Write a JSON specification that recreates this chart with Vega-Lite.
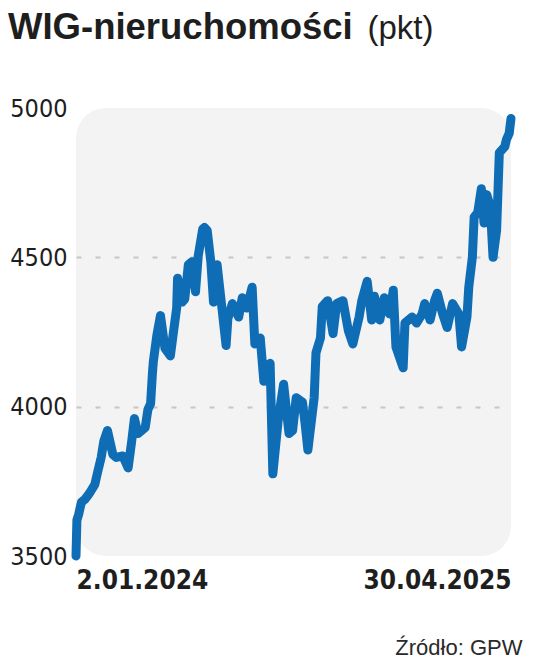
{
  "$schema": "https://vega.github.io/schema/vega-lite/v6.json",
  "width": 435,
  "height": 448,
  "autosize": {"type": "none"},
  "padding": {"left": 76, "top": 108, "right": 25, "bottom": 103},
  "background": "#ffffff",
  "title": {
    "text": "WIG-nieruchomości",
    "anchor": "start",
    "frame": "group",
    "dx": -68,
    "dy": 63,
    "offset": 0,
    "baseline": "alphabetic",
    "font": "Liberation Sans",
    "fontSize": 36.5,
    "fontWeight": "bold",
    "color": "#1e1e1e"
  },
  "config": {
    "view": {"fill": "#f3f3f3", "stroke": null, "cornerRadius": 30}
  },
  "data": {
    "values": [
      {"date": "2024-01-02", "value": 3500},
      {"date": "2024-01-03", "value": 3620},
      {"date": "2024-01-05", "value": 3640},
      {"date": "2024-01-08", "value": 3680},
      {"date": "2024-01-12", "value": 3690},
      {"date": "2024-01-17", "value": 3710},
      {"date": "2024-01-23", "value": 3740},
      {"date": "2024-01-26", "value": 3780},
      {"date": "2024-01-30", "value": 3830},
      {"date": "2024-02-02", "value": 3885},
      {"date": "2024-02-06", "value": 3920},
      {"date": "2024-02-12", "value": 3840},
      {"date": "2024-02-16", "value": 3830},
      {"date": "2024-02-23", "value": 3835},
      {"date": "2024-02-29", "value": 3795},
      {"date": "2024-03-04", "value": 3885},
      {"date": "2024-03-07", "value": 3960},
      {"date": "2024-03-11", "value": 3910},
      {"date": "2024-03-15", "value": 3920},
      {"date": "2024-03-19", "value": 3930},
      {"date": "2024-03-22", "value": 3990},
      {"date": "2024-03-25", "value": 4010},
      {"date": "2024-03-27", "value": 4110},
      {"date": "2024-03-28", "value": 4150},
      {"date": "2024-04-01", "value": 4240},
      {"date": "2024-04-05", "value": 4305},
      {"date": "2024-04-10", "value": 4195},
      {"date": "2024-04-16", "value": 4170},
      {"date": "2024-04-19", "value": 4240},
      {"date": "2024-04-23", "value": 4330},
      {"date": "2024-04-24", "value": 4430},
      {"date": "2024-04-29", "value": 4350},
      {"date": "2024-05-02", "value": 4360},
      {"date": "2024-05-06", "value": 4475},
      {"date": "2024-05-10", "value": 4485},
      {"date": "2024-05-14", "value": 4385},
      {"date": "2024-05-17", "value": 4505},
      {"date": "2024-05-22", "value": 4595},
      {"date": "2024-05-24", "value": 4600},
      {"date": "2024-05-27", "value": 4590},
      {"date": "2024-05-31", "value": 4485},
      {"date": "2024-06-03", "value": 4350},
      {"date": "2024-06-07", "value": 4475},
      {"date": "2024-06-12", "value": 4340},
      {"date": "2024-06-17", "value": 4205},
      {"date": "2024-06-19", "value": 4295},
      {"date": "2024-06-24", "value": 4345},
      {"date": "2024-07-01", "value": 4300},
      {"date": "2024-07-05", "value": 4365},
      {"date": "2024-07-10", "value": 4330},
      {"date": "2024-07-16", "value": 4400},
      {"date": "2024-07-19", "value": 4210},
      {"date": "2024-07-25", "value": 4230},
      {"date": "2024-07-29", "value": 4085},
      {"date": "2024-08-02", "value": 4130},
      {"date": "2024-08-05", "value": 4145},
      {"date": "2024-08-08", "value": 3775},
      {"date": "2024-08-14", "value": 3955},
      {"date": "2024-08-20", "value": 4075},
      {"date": "2024-08-26", "value": 3910},
      {"date": "2024-08-30", "value": 3920},
      {"date": "2024-09-03", "value": 4030},
      {"date": "2024-09-10", "value": 4015},
      {"date": "2024-09-13", "value": 3940},
      {"date": "2024-09-16", "value": 3855},
      {"date": "2024-09-23", "value": 4030},
      {"date": "2024-09-25", "value": 4180},
      {"date": "2024-09-30", "value": 4230},
      {"date": "2024-10-02", "value": 4335},
      {"date": "2024-10-08", "value": 4355},
      {"date": "2024-10-14", "value": 4245},
      {"date": "2024-10-18", "value": 4345},
      {"date": "2024-10-25", "value": 4355},
      {"date": "2024-10-31", "value": 4255},
      {"date": "2024-11-05", "value": 4210},
      {"date": "2024-11-12", "value": 4300},
      {"date": "2024-11-15", "value": 4355},
      {"date": "2024-11-21", "value": 4420},
      {"date": "2024-11-26", "value": 4290},
      {"date": "2024-11-29", "value": 4370},
      {"date": "2024-12-05", "value": 4290},
      {"date": "2024-12-10", "value": 4365},
      {"date": "2024-12-16", "value": 4310},
      {"date": "2024-12-20", "value": 4390},
      {"date": "2024-12-23", "value": 4200},
      {"date": "2024-12-31", "value": 4130},
      {"date": "2025-01-02", "value": 4280},
      {"date": "2025-01-10", "value": 4300},
      {"date": "2025-01-15", "value": 4280},
      {"date": "2025-01-21", "value": 4310},
      {"date": "2025-01-24", "value": 4345},
      {"date": "2025-01-30", "value": 4290},
      {"date": "2025-02-04", "value": 4355},
      {"date": "2025-02-07", "value": 4380},
      {"date": "2025-02-13", "value": 4310},
      {"date": "2025-02-18", "value": 4265},
      {"date": "2025-02-24", "value": 4345},
      {"date": "2025-03-03", "value": 4310},
      {"date": "2025-03-06", "value": 4200},
      {"date": "2025-03-12", "value": 4300},
      {"date": "2025-03-14", "value": 4400},
      {"date": "2025-03-18", "value": 4500},
      {"date": "2025-03-20", "value": 4635},
      {"date": "2025-03-24", "value": 4650},
      {"date": "2025-03-28", "value": 4730},
      {"date": "2025-03-31", "value": 4615},
      {"date": "2025-04-03", "value": 4710},
      {"date": "2025-04-07", "value": 4670},
      {"date": "2025-04-10", "value": 4500},
      {"date": "2025-04-14", "value": 4590},
      {"date": "2025-04-17", "value": 4850},
      {"date": "2025-04-23", "value": 4870},
      {"date": "2025-04-25", "value": 4895},
      {"date": "2025-04-28", "value": 4915},
      {"date": "2025-04-30", "value": 4965}
    ]
  },
  "mark": {
    "type": "line",
    "color": "#0f6db6",
    "strokeWidth": 9,
    "strokeCap": "round",
    "strokeJoin": "round"
  },
  "encoding": {
    "x": {
      "field": "date",
      "type": "temporal",
      "scale": {
        "type": "utc",
        "domain": [
          {"year": 2024, "month": 1, "date": 2, "utc": true},
          {"year": 2025, "month": 4, "date": 30, "utc": true}
        ]
      },
      "axis": {
        "values": [
          {"year": 2024, "month": 1, "date": 2, "utc": true},
          {"year": 2025, "month": 4, "date": 30, "utc": true}
        ],
        "labelExpr": "utcFormat(datum.value, '%-d.%m.%Y')",
        "labelFlush": true,
        "labelFont": "DejaVu Sans Condensed, Liberation Sans, sans-serif",
        "labelFontSize": 26,
        "labelFontWeight": "bold",
        "labelColor": "#1e1e1e",
        "labelPadding": 11,
        "labelOverlap": false,
        "domain": false,
        "ticks": false,
        "grid": false,
        "title": "Źródło: GPW",
        "titleFont": "Liberation Sans",
        "titleFontSize": 22,
        "titleFontWeight": "normal",
        "titleColor": "#2a2a2a",
        "titleAlign": "right",
        "titleAnchor": "end",
        "titleBaseline": "alphabetic",
        "titleX": 446,
        "titleY": 98
      }
    },
    "y": {
      "field": "value",
      "type": "quantitative",
      "scale": {"domain": [3500, 5000], "nice": false, "zero": false},
      "axis": {
        "values": [3500, 4000, 4500, 5000],
        "format": "d",
        "labelFont": "DejaVu Sans Condensed, Liberation Sans, sans-serif",
        "labelFontSize": 25,
        "labelColor": "#1e1e1e",
        "labelPadding": 9,
        "domain": false,
        "ticks": false,
        "grid": true,
        "gridColor": {
          "condition": {"test": "datum.value == 4000 || datum.value == 4500", "value": "#c6c6c6"},
          "value": "transparent"
        },
        "gridDash": [5, 14],
        "gridWidth": 2,
        "title": "(pkt)",
        "titleFont": "Liberation Sans",
        "titleFontSize": 33,
        "titleFontWeight": "normal",
        "titleColor": "#1e1e1e",
        "titleAngle": 0,
        "titleAlign": "left",
        "titleBaseline": "alphabetic",
        "titleX": 291,
        "titleY": -70
      }
    }
  }
}
